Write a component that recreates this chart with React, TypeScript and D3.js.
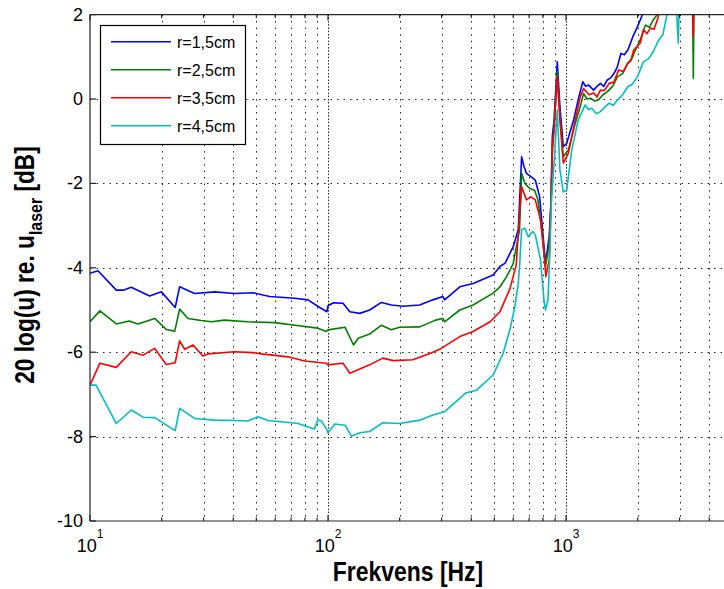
import { useEffect, useRef } from 'react';
import * as d3 from 'd3';

// frequency [Hz], level [dB]
const r15: [number, number][] = [
  [10, -4.13], [10.8, -4.07], [12.9, -4.53], [13.8, -4.53], [14.9, -4.46], [17.8, -4.67], [19.95, -4.57],
  [22.8, -4.94], [23.8, -4.45], [27.5, -4.61], [33.4, -4.57], [40.5, -4.61], [48.3, -4.59], [56.9, -4.68],
  [72.5, -4.72], [82.4, -4.76], [92.3, -4.94], [99, -5.04], [100, -4.9], [105.4, -4.83], [115.6, -4.84],
  [123.5, -5.04], [136, -5.08], [149.6, -5.0], [167.6, -4.82], [184.6, -4.88], [206.6, -4.91], [242.7, -4.88],
  [276, -4.76], [304, -4.68], [309, -4.76], [358, -4.45], [407, -4.37], [494, -4.17], [528, -3.97],
  [555, -3.89], [600, -3.5], [630, -3.1], [651, -1.37], [666, -1.6], [682, -1.76], [712, -1.84],
  [743, -1.92], [775, -2.32], [797, -3.1], [820, -3.89], [850, -3.26], [864, -2.47], [876, -0.89],
  [891, -0.5], [919, 0.88], [943, -0.18], [974, -1.13], [1007, -1.05], [1076, -0.5], [1125, -0.02],
  [1176, 0.41], [1210, 0.3], [1245, 0.33], [1307, 0.21], [1350, 0.3], [1395, 0.37], [1440, 0.3],
  [1490, 0.45], [1540, 0.5], [1592, 0.61], [1640, 0.75], [1701, 1.08], [1760, 1.05], [1818, 1.16],
  [1860, 1.3], [1910, 1.48], [1995, 1.71], [2092, 1.99], [2300, 2.3], [2700, 2.6], [3100, 2.8],
  [3430, 2.6], [3600, 3.0],
];
const r25: [number, number][] = [
  [10, -5.28], [11, -5.02], [12.9, -5.33], [14.6, -5.26], [15.9, -5.33], [18.7, -5.2], [20.9, -5.46],
  [22.7, -5.5], [23.8, -4.98], [25.8, -5.2], [29.3, -5.25], [32.4, -5.28], [36.7, -5.24], [46, -5.28],
  [59.7, -5.3], [77, -5.38], [90.6, -5.43], [98.3, -5.51], [100, -5.47], [118, -5.41], [128, -5.83],
  [134, -5.67], [149.6, -5.57], [167.6, -5.36], [184.6, -5.47], [200, -5.41], [243, -5.4], [283, -5.24],
  [304, -5.2], [309, -5.28], [358, -5.0], [407, -4.88], [494, -4.6], [528, -4.45], [563, -4.21],
  [600, -3.9], [638, -3.1], [651, -1.76], [672, -2.0], [704, -2.12], [738, -2.16], [762, -2.39],
  [797, -3.26], [820, -3.97], [850, -3.42], [864, -2.55], [876, -1.13], [891, -0.66], [919, 0.65],
  [943, -0.4], [974, -1.37], [1023, -1.21], [1093, -0.58], [1148, -0.18], [1185, 0.13], [1225, 0.0],
  [1268, 0.02], [1320, -0.05], [1369, -0.02], [1430, 0.1], [1490, 0.17], [1570, 0.3], [1647, 0.53],
  [1730, 0.6], [1818, 0.85], [1890, 0.95], [1956, 1.16], [2050, 1.4], [2154, 1.75], [2240, 1.7],
  [2325, 1.87], [2420, 2.0], [2700, 2.3], [3100, 2.5], [3400, 2.4], [3428, 0.49], [3450, 2.5], [3600, 2.8],
];
const r35: [number, number][] = [
  [10, -6.78], [11, -6.26], [12.9, -6.36], [14.9, -5.99], [16.7, -6.07], [18.7, -5.91], [20.9, -6.29],
  [22.8, -6.25], [23.8, -5.73], [25, -5.93], [27.1, -5.83], [29.8, -6.09], [31.3, -6.04], [40.5, -5.99],
  [48.3, -6.01], [52.5, -6.04], [67.9, -6.11], [79.8, -6.21], [98.3, -6.26], [100, -6.3], [115.6, -6.26],
  [123.5, -6.5], [149.6, -6.3], [170, -6.14], [188, -6.2], [227, -6.18], [268, -6.03], [299, -5.91],
  [358, -5.63], [407, -5.51], [480, -5.28], [528, -5.04], [581, -4.5], [618, -3.93], [638, -2.71],
  [651, -2.08], [682, -2.39], [712, -2.32], [743, -2.39], [782, -2.87], [808, -3.66], [823, -4.21],
  [850, -3.82], [864, -2.63], [876, -1.29], [891, -0.73], [919, 0.53], [943, -0.5], [974, -1.52],
  [1023, -1.29], [1093, -0.5], [1148, 0.05], [1185, 0.25], [1250, 0.1], [1307, 0.14], [1350, 0.05],
  [1395, 0.21], [1450, 0.2], [1518, 0.37], [1590, 0.4], [1665, 0.69], [1740, 0.65], [1818, 0.85],
  [1870, 0.9], [1926, 1.16], [2050, 1.32], [2115, 1.64], [2190, 1.55], [2263, 1.68], [2340, 1.65],
  [2420, 1.87], [2453, 2.0], [2700, 2.3], [3100, 2.5], [3400, 2.4], [3428, 1.48], [3450, 2.5], [3600, 2.8],
];
const r45: [number, number][] = [
  [10, -6.78], [10.6, -6.78], [12.9, -7.69], [14.9, -7.37], [16.7, -7.54], [18.7, -7.55], [22.8, -7.86],
  [23.8, -7.33], [27.5, -7.57], [33.4, -7.61], [40.5, -7.62], [46, -7.63], [50.8, -7.53], [55.9, -7.62],
  [74.8, -7.69], [87.7, -7.82], [90.6, -7.61], [93.6, -7.62], [99, -7.84], [100, -7.91], [106.7, -7.7],
  [118, -7.73], [125.3, -7.99], [136, -7.91], [149.6, -7.88], [170, -7.67], [200, -7.69], [243, -7.61],
  [276, -7.49], [309, -7.41], [381, -6.96], [421, -6.9], [494, -6.54], [544, -6.03], [581, -5.47],
  [610, -4.92], [630, -4.37], [638, -3.97], [651, -3.1], [672, -3.06], [693, -3.26], [725, -3.14],
  [743, -3.22], [782, -3.82], [808, -4.76], [820, -5.0], [840, -4.76], [855, -3.66], [868, -2.47],
  [891, -1.52], [919, -0.26], [943, -1.68], [974, -2.2], [1007, -2.16], [1057, -1.21], [1125, -0.5],
  [1204, -0.14], [1240, -0.25], [1282, -0.22], [1340, -0.35], [1395, -0.3], [1450, -0.2], [1518, -0.1],
  [1580, -0.15], [1647, -0.02], [1730, 0.1], [1818, 0.29], [1900, 0.35], [1995, 0.53], [2115, 0.88],
  [2220, 0.95], [2325, 1.12], [2453, 1.4], [2552, 1.52], [2656, 2.0], [2900, 2.3], [2964, 1.32],
  [2990, 2.3], [3300, 2.5], [3600, 2.8],
];

const seriesNames = ['r=1,5cm', 'r=2,5cm', 'r=3,5cm', 'r=4,5cm'];
const seriesData = [r15, r25, r35, r45];
const seriesColors = ['#0000ff', '#008000', '#ff0000', '#00bfbf'];
const yTicks = [-10, -8, -6, -4, -2, 0, 2];
const xMajor = [10, 100, 1000];
const xDomain = [10, 5000];
const yDomain = [-10, 2];

export default function App() {
  const svgRef = useRef<SVGSVGElement>(null);

  useEffect(() => {
    const width = 724;
    const height = 589;
    const left = 90, top = 14.6, bottom = 521;
    const right = left + 238 * Math.log10(xDomain[1] / xDomain[0]);

    const svg = d3.select(svgRef.current);
    svg.selectAll('*').remove();
    svg.attr('width', width).attr('height', height);

    const x = d3.scaleLog().domain(xDomain).range([left, right]);
    const y = d3.scaleLinear().domain(yDomain).range([bottom, top]);

    svg.append('rect').attr('width', width).attr('height', height).attr('fill', '#fff');

    svg.append('clipPath').attr('id', 'plotclip')
      .append('rect').attr('x', left).attr('y', top).attr('width', right - left).attr('height', bottom - top);

    // grid (dotted, matlab style)
    const minor: number[] = [];
    xMajor.forEach(d => { for (let k = 1; k <= 9; k++) if (d * k < xDomain[1]) minor.push(d * k); });
    const grid = svg.append('g').attr('stroke', '#222').attr('stroke-width', 1).attr('stroke-dasharray', '1.5 5');
    grid.selectAll('.xg').data(minor.filter(v => v > xDomain[0])).enter().append('line')
      .attr('x1', d => Math.round(x(d)) + 0.5).attr('x2', d => Math.round(x(d)) + 0.5)
      .attr('y1', top).attr('y2', bottom);
    grid.selectAll('.xg2').data([100, 1000]).enter().append('line')
      .attr('x1', d => Math.round(x(d)) + 0.5).attr('x2', d => Math.round(x(d)) + 0.5)
      .attr('y1', top + 3).attr('y2', bottom);
    grid.selectAll('.yg').data(yTicks.slice(1, -1)).enter().append('line')
      .attr('x1', left).attr('x2', right)
      .attr('y1', d => Math.round(y(d)) + 0.5).attr('y2', d => Math.round(y(d)) + 0.5);

    // series
    const line = d3.line<[number, number]>().x(d => x(d[0])).y(d => y(d[1]));
    const lines = svg.append('g').attr('clip-path', 'url(#plotclip)');
    seriesData.forEach((s, i) => {
      lines.append('path').datum(s)
        .attr('fill', 'none').attr('stroke', seriesColors[i]).attr('stroke-width', 1.6)
        .attr('stroke-linejoin', 'round').attr('d', line);
    });

    // axes box + ticks
    const ax = svg.append('g').attr('stroke', '#262626').attr('stroke-width', 1.2).attr('fill', 'none');
    ax.append('line').attr('x1', left).attr('x2', left).attr('y1', top).attr('y2', bottom);
    ax.append('line').attr('x1', left).attr('x2', right).attr('y1', bottom).attr('y2', bottom);
    ax.append('line').attr('x1', left).attr('x2', right).attr('y1', top).attr('y2', top);
    yTicks.forEach(t => {
      ax.append('line').attr('x1', left).attr('x2', left + 6).attr('y1', y(t)).attr('y2', y(t));
    });
    minor.forEach(t => {
      const len = xMajor.includes(t) ? 6 : 3.5;
      ax.append('line').attr('x1', x(t)).attr('x2', x(t)).attr('y1', bottom).attr('y2', bottom - len);
      ax.append('line').attr('x1', x(t)).attr('x2', x(t)).attr('y1', top).attr('y2', top + len);
    });

    // tick labels
    const tickFont = "'Liberation Sans', Arial, sans-serif";
    svg.append('g').selectAll('text').data(yTicks).enter().append('text')
      .attr('x', left - 7).attr('y', d => y(d) + 6)
      .attr('text-anchor', 'end').attr('font-family', tickFont).attr('font-size', 18).attr('fill', '#000')
      .text(d => d);
    xMajor.forEach(d => {
      const t = svg.append('text').attr('x', x(d)).attr('y', 552)
        .attr('text-anchor', 'middle').attr('font-family', tickFont).attr('font-size', 18).attr('fill', '#000');
      t.append('tspan').text('10');
      t.append('tspan').attr('dy', -14).attr('font-size', 12).text(String(Math.round(Math.log10(d))));
    });

    // axis labels (glyphs are tall and narrow in the original, so squeeze horizontally)
    svg.append('text').attr('transform', 'translate(408,581) scale(0.85,1)').attr('text-anchor', 'middle')
      .attr('font-family', tickFont).attr('font-weight', 'bold').attr('font-size', 27).attr('fill', '#000')
      .text('Frekvens [Hz]');
    const yl = svg.append('text').attr('transform', 'translate(34,265) rotate(-90) scale(0.84,1)')
      .attr('text-anchor', 'middle')
      .attr('font-family', tickFont).attr('font-weight', 'bold').attr('font-size', 27).attr('fill', '#000');
    yl.append('tspan').text('20 log(u) re. u');
    yl.append('tspan').attr('font-size', 19).attr('dy', 8).text('laser');
    yl.append('tspan').attr('dy', -8).text(' [dB]');

    // legend
    const lg = svg.append('g');
    lg.append('rect').attr('x', 100.5).attr('y', 25.5).attr('width', 145).attr('height', 119)
      .attr('fill', '#fff').attr('stroke', '#000').attr('stroke-width', 1.2);
    seriesNames.forEach((n, i) => {
      const yy = 41.7 + i * 28;
      lg.append('line').attr('x1', 111).attr('x2', 171).attr('y1', yy).attr('y2', yy)
        .attr('stroke', seriesColors[i]).attr('stroke-width', 1.4);
      lg.append('text').attr('x', 177).attr('y', yy + 6).attr('font-family', tickFont)
        .attr('font-size', 16).attr('fill', '#000').text(n);
    });
  }, []);

  return (
    <svg ref={svgRef} width={724} height={589} style={{ position: 'absolute', left: 0, top: 0 }} />
  );
}
